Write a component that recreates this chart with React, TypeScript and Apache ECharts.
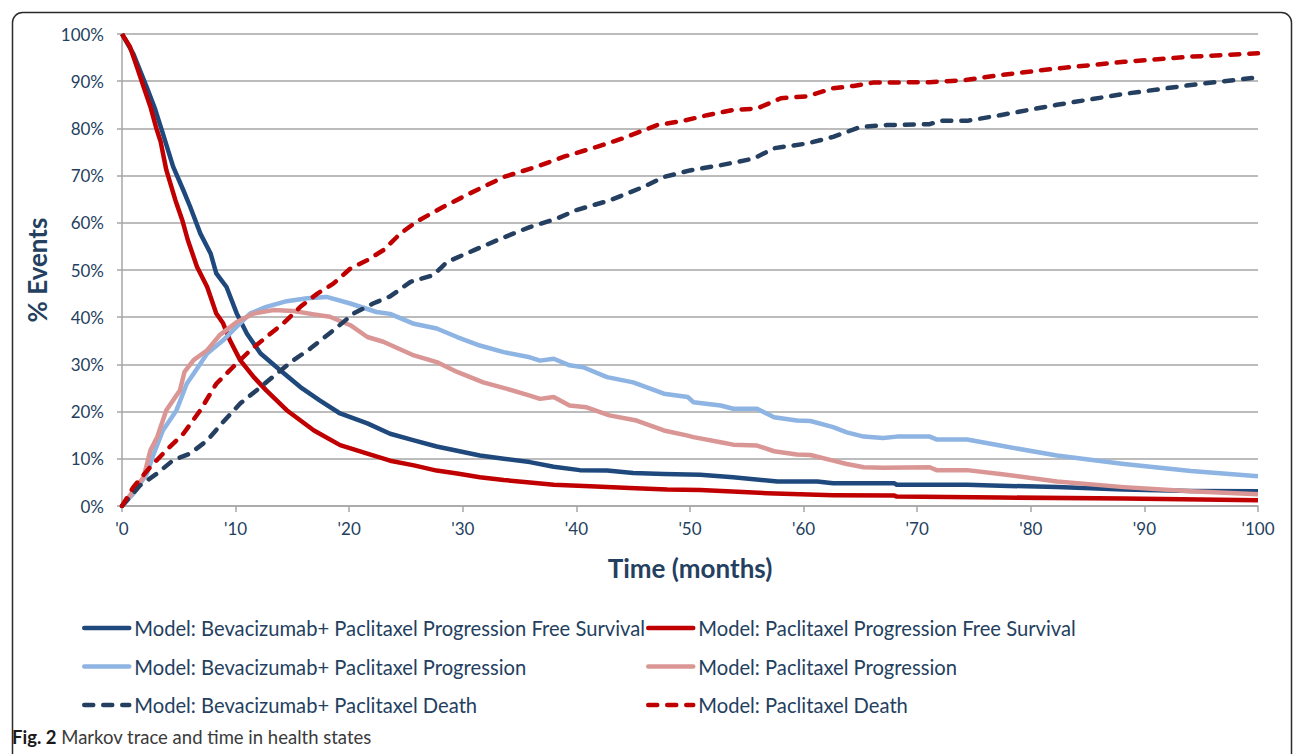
import React, { useEffect, useRef } from "react";
import * as echarts from "echarts";

const xTicks = [0, 10, 20, 30, 40, 50, 60, 70, 80, 90, 100];
const yTicks = [0, 10, 20, 30, 40, 50, 60, 70, 80, 90, 100];

const seriesNames = [
  "Model: Bevacizumab+ Paclitaxel Progression Free Survival",
  "Model: Paclitaxel Progression Free Survival",
  "Model: Bevacizumab+ Paclitaxel Progression",
  "Model: Paclitaxel Progression",
  "Model: Bevacizumab+ Paclitaxel Death",
  "Model: Paclitaxel Death",
];

const bevPfsMonths = [0, 1, 2.2, 2.9, 3.6, 4.5, 5.4, 6, 6.9, 7.8, 8.3, 9.2, 10.1, 11, 12.2, 13.9, 15.7, 17.4, 19.2, 21.6, 23.6, 25.7, 27.7, 29.5, 31.5, 33.6, 35.9, 38, 40.3, 42.7, 45, 47.7, 50.9, 53.8, 57.7, 61.2, 62.6, 68, 68.2, 74.4, 77.3, 82.3, 88.2, 94.1, 100];
const bevPfsValues = [100, 95.8, 88.6, 84.2, 78.9, 71.9, 66.9, 63.4, 57.7, 53.5, 49.3, 46.4, 40.8, 36.5, 32.3, 28.8, 25.2, 22.4, 19.6, 17.5, 15.3, 13.9, 12.6, 11.7, 10.7, 10, 9.3, 8.3, 7.6, 7.5, 7, 6.8, 6.6, 6.1, 5.2, 5.2, 4.8, 4.8, 4.5, 4.5, 4.3, 4.0, 3.5, 3.2, 3.1];

const pacPfsMonths = [0, 0.7, 1.3, 1.9, 2.5, 3.0, 3.4, 3.9, 4.7, 5.3, 5.8, 6.6, 7.5, 8.3, 8.9, 9.5, 10.4, 11.6, 12.7, 14.5, 16.9, 19.2, 21.6, 23.6, 25.7, 27.7, 29.5, 31.5, 33.6, 35.9, 38, 41.2, 44.7, 48, 50.9, 56.8, 62.6, 68, 68.2, 77.3, 88.2, 100];
const pacPfsValues = [100, 97.3, 93.1, 88.8, 84.6, 80.2, 77.2, 71.2, 64.8, 60.6, 56.3, 50.7, 46.4, 40.8, 38.7, 35.1, 30.9, 27.3, 24.5, 20.3, 16.0, 12.9, 11.1, 9.6, 8.6, 7.5, 6.9, 6.1, 5.5, 5.0, 4.5, 4.2, 3.8, 3.5, 3.4, 2.7, 2.3, 2.2, 2.0, 1.8, 1.6, 1.2];

const bevProgMonths = [0, 1, 2.2, 2.8, 3.6, 4.8, 5.7, 6.3, 7.5, 8.9, 10.1, 11.3, 12.7, 14.5, 16.3, 18, 20.1, 22.4, 23.6, 25.7, 27.7, 29.5, 31.5, 33.6, 35.9, 36.8, 38, 39.4, 40.6, 42.7, 45, 47.7, 49.8, 50.3, 52.7, 53.8, 55.9, 57.4, 59.4, 60.6, 62.6, 63.8, 65.3, 67, 68.2, 71.1, 71.7, 74.4, 77.3, 82.3, 88.2, 94.1, 100];
const bevProgValues = [0, 2.6, 6.9, 11.1, 16, 20.3, 25.9, 28, 32.3, 35.1, 38, 40.8, 42.2, 43.4, 44, 44.3, 42.9, 41.1, 40.7, 38.6, 37.6, 35.8, 34, 32.6, 31.5, 30.8, 31.2, 29.8, 29.4, 27.3, 26.2, 23.8, 23.1, 22, 21.3, 20.6, 20.6, 18.8, 18.1, 18, 16.7, 15.6, 14.7, 14.4, 14.7, 14.7, 14.1, 14.1, 12.8, 10.7, 8.9, 7.4, 6.3];

const pacProgMonths = [0, 1.9, 2.5, 3.1, 3.9, 5.1, 5.5, 6.3, 7.5, 8.6, 10.1, 11.6, 13.3, 15.1, 16.9, 18.3, 20.1, 21.6, 23, 25.7, 27.7, 29.5, 31.8, 33.9, 35.9, 36.8, 38, 39.4, 40.9, 42.9, 45.3, 47.7, 49.8, 50.3, 52.7, 53.8, 55.9, 57.4, 59.4, 60.6, 62.6, 63.8, 65.3, 67, 71.1, 71.7, 74.4, 77.3, 82.3, 88.2, 94.1, 100];
const pacProgValues = [0, 6.1, 11.8, 14.6, 20.3, 24.5, 28.4, 30.9, 33, 36.2, 39, 40.8, 41.5, 41.3, 40.6, 40.1, 38.3, 35.8, 34.8, 31.9, 30.5, 28.4, 26.2, 24.8, 23.4, 22.7, 23.1, 21.3, 20.9, 19.2, 18.1, 16, 14.9, 14.6, 13.5, 13, 12.8, 11.6, 10.9, 10.8, 9.6, 8.9, 8.2, 8.1, 8.2, 7.6, 7.6, 6.8, 5.2, 4.0, 3.1, 2.5];

const bevDeathMonths = [0, 1.6, 3.1, 4.5, 6, 7.5, 8.9, 10.4, 12.2, 13.6, 15.1, 16.6, 18.6, 20.4, 22.1, 23.6, 25.4, 27.4, 28.6, 31, 33.3, 35.9, 38.3, 40, 43, 45.9, 47.7, 50, 52.7, 55.6, 57.4, 60.3, 62.6, 65, 67.3, 71.1, 72, 74.4, 77.3, 82.3, 88.2, 94.1, 100];
const bevDeathValues = [0, 4.4, 6.9, 9.7, 11.1, 13.9, 17.8, 21.7, 25.2, 28, 30.9, 33.4, 37.2, 40.8, 42.9, 44.4, 47.5, 48.9, 51.7, 54.2, 56.6, 59.1, 60.9, 62.7, 64.8, 67.6, 69.7, 71.1, 72.2, 73.6, 75.8, 76.8, 78.2, 80.3, 80.7, 80.9, 81.6, 81.6, 82.8, 85, 87.3, 89.2, 90.8];

const pacDeathMonths = [0, 1, 2.5, 3.9, 5.4, 6.9, 8.3, 9.8, 11.3, 12.7, 14.2, 15.7, 17.2, 18.6, 20.1, 21.6, 23, 24.5, 25.9, 28.3, 30.6, 33.6, 36.5, 38.9, 41.8, 44.1, 47.1, 49.4, 51.5, 53.8, 55.9, 58, 60.3, 62.6, 64.4, 66.1, 71.1, 74.1, 77.3, 82.3, 88.2, 94.1, 100];
const pacDeathValues = [0, 4, 8.3, 11.8, 15.3, 20.3, 25.9, 29.5, 33, 35.8, 38.7, 42.2, 45, 47.1, 50.3, 52.1, 54.2, 57.7, 60.2, 63.4, 66.2, 69.7, 71.9, 74, 76.1, 77.9, 80.7, 81.6, 82.8, 83.9, 84.2, 86.4, 86.8, 88.5, 89, 89.7, 89.8, 90.2, 91.3, 92.7, 94.1, 95.2, 95.9];

const zip = (xs: number[], ys: number[]) => xs.map((x, i) => [x, ys[i]]);

const TEXT = "#243F60";
const FONT = "Lato";

export default function App() {
  const ref = useRef<HTMLDivElement>(null);

  useEffect(() => {
    if (!ref.current) return;
    const chart = echarts.init(ref.current, undefined, { renderer: "svg" });

    const mk = (name: string, data: number[][], color: string, dashed: boolean) => ({
      name,
      type: "line",
      data,
      showSymbol: false,
      symbol: "none",
      smooth: false,
      lineStyle: {
        color,
        width: 4.5,
        type: dashed ? [9, 10] : "solid",
        cap: dashed ? "round" : "butt",
        join: "round",
      },
      itemStyle: { color },
      emphasis: { disabled: true },
    });

    const legendCommon = {
      orient: "vertical",
      top: 617,
      padding: 0,
      itemWidth: 45,
      itemHeight: 22,
      itemGap: 16.5,
      selectedMode: false,
      itemStyle: { opacity: 0 },
      lineStyle: { width: 4.5, cap: "round" },
      textStyle: { color: TEXT, fontFamily: FONT, fontSize: 20.2, lineHeight: 22 },
    };

    chart.setOption({
      animation: false,
      backgroundColor: "#ffffff",
      grid: { left: 122, top: 34, width: 1136, height: 472, containLabel: false },
      xAxis: {
        type: "value",
        min: 0,
        max: 100,
        interval: 10,
        name: "Time (months)",
        nameLocation: "middle",
        nameGap: 49,
        nameTextStyle: { color: TEXT, fontFamily: FONT, fontSize: 26, fontWeight: "bold" },
        axisLine: { show: true, lineStyle: { color: "#a6a6a6", width: 1.5 } },
        axisTick: { show: true, length: 6, lineStyle: { color: "#a6a6a6", width: 1.5 } },
        axisLabel: {
          color: TEXT,
          fontFamily: FONT,
          fontSize: 17,
          margin: 14,
          formatter: (v: number) => (xTicks.includes(v) ? "'" + v : ""),
        },
        splitLine: { show: false },
      },
      yAxis: {
        type: "value",
        min: 0,
        max: 100,
        interval: 10,
        name: "% Events",
        nameLocation: "middle",
        nameGap: 69,
        nameRotate: 90,
        nameTextStyle: { color: TEXT, fontFamily: FONT, fontSize: 26, fontWeight: "bold" },
        axisLine: { show: true, lineStyle: { color: "#a6a6a6", width: 1.5 } },
        axisTick: { show: true, length: 5, lineStyle: { color: "#a6a6a6", width: 1.5 } },
        axisLabel: {
          color: TEXT,
          fontFamily: FONT,
          fontSize: 17,
          margin: 18,
          formatter: (v: number) => (yTicks.includes(v) ? v + "%" : ""),
        },
        splitLine: { show: true, lineStyle: { color: "#a6a6a6", width: 1.5 } },
      },
      legend: [
        { ...legendCommon, left: 82, data: [seriesNames[0], seriesNames[2], seriesNames[4]] },
        { ...legendCommon, left: 646, data: [seriesNames[1], seriesNames[3], seriesNames[5]] },
      ],
      graphic: [
        {
          type: "rect",
          left: 10,
          top: 10,
          shape: { width: 1279, height: 770, r: 10 },
          style: { fill: "none", stroke: "#2a2a2a", lineWidth: 1.5 },
          silent: true,
          z: -1,
        },
        {
          type: "text",
          left: 12,
          top: 727,
          style: {
            text: "{b|Fig. 2} Markov trace and time in health states",
            fill: "#3a3a3a",
            font: "18.5px " + FONT,
            rich: {
              b: { fontWeight: "bold", fontSize: 18.5, fontFamily: FONT, fill: "#1a1a1a" },
            },
          },
        },
      ],
      series: [
        mk(seriesNames[0], zip(bevPfsMonths, bevPfsValues), "#1F497D", false),
        mk(seriesNames[1], zip(pacPfsMonths, pacPfsValues), "#C00000", false),
        mk(seriesNames[2], zip(bevProgMonths, bevProgValues), "#8DB4E2", false),
        mk(seriesNames[3], zip(pacProgMonths, pacProgValues), "#DA9694", false),
        mk(seriesNames[4], zip(bevDeathMonths, bevDeathValues), "#243F60", true),
        mk(seriesNames[5], zip(pacDeathMonths, pacDeathValues), "#C00000", true),
      ],
    });

    return () => chart.dispose();
  }, []);

  return (
    <div
      ref={ref}
      style={{ position: "fixed", left: 0, top: 0, width: 1295, height: 754, background: "#fff" }}
    />
  );
}
